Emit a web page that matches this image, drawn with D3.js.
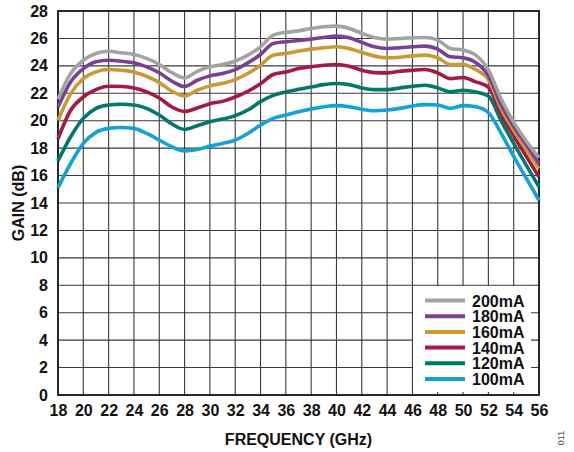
<!DOCTYPE html>
<html>
<head>
<meta charset="utf-8">
<script src="https://cdn.jsdelivr.net/npm/d3@7"></script>
<style>
  html, body { margin: 0; padding: 0; background: #fff; }
  svg { display: block; }
  text { font-family: "Liberation Sans", Arial, sans-serif; }
</style>
</head>
<body>
<svg id="chart" width="574" height="452"></svg>
<script>
// ---- data ----
const frequencies = d3.range(18, 57, 1); // GHz
const xTicks = d3.range(18, 57, 2);
const yTicks = d3.range(0, 29, 2);
const seriesNames = ["200mA", "180mA", "160mA", "140mA", "120mA", "100mA"];
const seriesColors = ["#a3a3a3", "#7b3f94", "#c99a33", "#a51a42", "#00786d", "#12a1d9"];

const gain200 = [21.56, 23.44, 24.41, 24.9, 25.07, 24.95, 24.83, 24.54, 24.1, 23.5, 23.12, 23.6, 23.93, 24.1, 24.34, 24.78, 25.39, 26.24, 26.44, 26.55, 26.73, 26.85, 26.9, 26.73, 26.37, 26.07, 25.95, 26.0, 26.05, 26.07, 25.88, 25.27, 25.15, 24.78, 23.7, 21.6, 19.9, 18.5, 17.3];
const gain180 = [21.0, 22.83, 23.8, 24.3, 24.41, 24.34, 24.22, 23.93, 23.5, 22.88, 22.49, 22.95, 23.27, 23.44, 23.73, 24.22, 24.83, 25.63, 25.76, 25.85, 25.95, 26.07, 26.17, 26.05, 25.71, 25.39, 25.27, 25.32, 25.39, 25.44, 25.22, 24.66, 24.59, 24.24, 23.3, 21.2, 19.6, 18.25, 16.88];
const gain160 = [20.02, 21.98, 23.07, 23.56, 23.73, 23.68, 23.56, 23.24, 22.78, 22.15, 21.8, 22.22, 22.54, 22.73, 23.0, 23.44, 24.05, 24.78, 24.9, 25.08, 25.22, 25.32, 25.39, 25.27, 24.98, 24.71, 24.59, 24.63, 24.73, 24.78, 24.59, 24.1, 24.1, 23.73, 23.0, 20.9, 19.3, 17.9, 16.5];
const gain140 = [18.68, 20.76, 21.73, 22.27, 22.51, 22.49, 22.39, 22.1, 21.66, 21.0, 20.68, 20.93, 21.24, 21.41, 21.73, 22.15, 22.7, 23.37, 23.56, 23.8, 23.93, 24.05, 24.1, 23.98, 23.68, 23.51, 23.49, 23.61, 23.68, 23.73, 23.49, 23.07, 23.15, 22.83, 22.45, 20.5, 18.9, 17.4, 15.9];
const gain120 = [17.07, 18.83, 20.17, 20.9, 21.15, 21.2, 21.15, 20.9, 20.41, 19.76, 19.37, 19.63, 19.93, 20.12, 20.37, 20.78, 21.39, 21.85, 22.1, 22.29, 22.46, 22.63, 22.71, 22.63, 22.39, 22.27, 22.27, 22.39, 22.51, 22.59, 22.39, 22.1, 22.22, 22.1, 21.8, 20.0, 18.35, 16.75, 15.17];
const gain100 = [15.12, 16.88, 18.34, 19.15, 19.44, 19.51, 19.44, 19.07, 18.59, 18.1, 17.8, 17.9, 18.15, 18.34, 18.59, 19.07, 19.68, 20.17, 20.41, 20.66, 20.85, 21.02, 21.1, 21.02, 20.83, 20.73, 20.78, 20.9, 21.07, 21.17, 21.15, 20.9, 21.1, 21.02, 20.6, 19.1, 17.4, 15.8, 14.2];
const seriesValues = [gain200, gain180, gain160, gain140, gain120, gain100];

// ---- layout ----
const L = 58, R = 539, T = 11, B = 395;
const svg = d3.select("#chart");
const x = d3.scaleLinear().domain([18, 56]).range([L, R]);
const y = d3.scaleLinear().domain([0, 28]).range([B, T]);

// grid
const grid = svg.append("g");
grid.selectAll("line.v").data(xTicks.slice(1, -1)).join("line")
  .attr("x1", d => x(d)).attr("x2", d => x(d))
  .attr("y1", T).attr("y2", B)
  .attr("stroke", "#3a3a3a").attr("stroke-width", 1.1);
grid.selectAll("line.h").data(yTicks.slice(1, -1)).join("line")
  .attr("x1", L).attr("x2", R)
  .attr("y1", d => y(d)).attr("y2", d => y(d))
  .attr("stroke", "#3a3a3a").attr("stroke-width", 1.1);

// legend background (white box over grid)
const lgX0 = x(46) + 0.7, lgX1 = 531, lgY0 = y(8) + 0.7, lgY1 = B - 3;
svg.append("rect").attr("x", lgX0).attr("y", lgY0)
  .attr("width", lgX1 - lgX0).attr("height", lgY1 - lgY0).attr("fill", "#fff");

// frame
svg.append("rect").attr("x", L).attr("y", T).attr("width", R - L).attr("height", B - T)
  .attr("fill", "none").attr("stroke", "#111").attr("stroke-width", 1.8);

// axes (labels only)
const xAxis = d3.axisBottom(x).tickValues(xTicks).tickSize(0).tickPadding(10).tickFormat(d3.format("d"));
const gx = svg.append("g").attr("transform", `translate(0,${B})`).call(xAxis);
gx.select(".domain").remove();
gx.selectAll("text").attr("font-size", 16).attr("font-weight", "bold").attr("fill", "#111")
  .attr("font-family", "'Liberation Sans', Arial, sans-serif");

const yAxis = d3.axisLeft(y).tickValues(yTicks).tickSize(0).tickPadding(10).tickFormat(d3.format("d"));
const gy = svg.append("g").attr("transform", `translate(${L},0)`).call(yAxis);
gy.select(".domain").remove();
gy.selectAll("text").attr("font-size", 16).attr("font-weight", "bold").attr("fill", "#111")
  .attr("font-family", "'Liberation Sans', Arial, sans-serif");

// lines
const line = d3.line().x((d, i) => x(frequencies[i])).y(d => y(d)).curve(d3.curveMonotoneX);
seriesValues.slice().reverse().forEach((vals, k) => {
  const i = seriesValues.length - 1 - k;
  svg.append("path").datum(vals).attr("d", line)
    .attr("fill", "none").attr("stroke", seriesColors[i]).attr("stroke-width", 3.6)
    .attr("stroke-linejoin", "round");
});

// legend entries
const lg = svg.append("g");
seriesNames.forEach((name, i) => {
  const yy = 300.5 + i * 15.7;
  lg.append("line").attr("x1", 425).attr("x2", 465).attr("y1", yy).attr("y2", yy)
    .attr("stroke", seriesColors[i]).attr("stroke-width", 4);
  lg.append("text").attr("x", 472).attr("y", yy + 6).text(name)
    .attr("font-size", 16).attr("font-weight", "bold").attr("fill", "#111");
});

// axis titles
svg.append("text").attr("x", (L + R) / 2).attr("y", 445).attr("text-anchor", "middle")
  .attr("font-size", 16).attr("font-weight", "bold").attr("fill", "#111").text("FREQUENCY (GHz)");
svg.append("text").attr("transform", `translate(24,${(T + B) / 2}) rotate(-90)`)
  .attr("text-anchor", "middle").attr("font-size", 16).attr("font-weight", "bold").attr("fill", "#111")
  .text("GAIN (dB)");
svg.append("text").attr("transform", "translate(564,438) rotate(-90)")
  .attr("text-anchor", "middle").attr("font-size", 9).attr("fill", "#444").text("011");
</script>
</body>
</html>
